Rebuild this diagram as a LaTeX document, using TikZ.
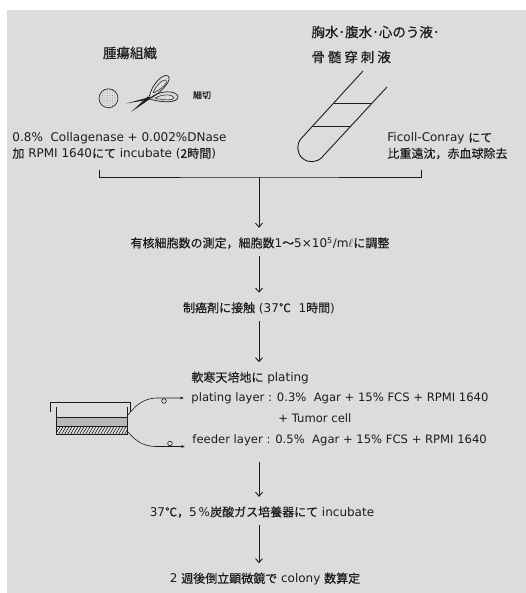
\documentclass[tikz,border=0pt]{standalone}
\usepackage{fontspec}
\setmainfont{DejaVu Sans}
\newfontfamily\jp[FakeBold=0.4]{Noto Sans CJK JP}
\usepackage{tikz}
\usetikzlibrary{arrows.meta,patterns.meta}

\definecolor{paper}{HTML}{DCDCDC}
\definecolor{ink}{HTML}{1C1C1C}

\tikzset{
  head/.style={inner sep=1pt, align=left, font=\jp\fontsize{13.5}{25}\selectfont},
  note/.style={inner sep=1pt, align=left, font=\fontsize{12}{16}\selectfont},
  stage/.style={inner xsep=1pt, inner ysep=3pt, font=\fontsize{12}{14}\selectfont},
  layer/.style={stage, anchor=west, font=\fontsize{11.6}{14}\selectfont},
  flow/.style={->, shorten <=4pt, shorten >=6pt},
  pointer/.style={-{Latex[length=3.5pt,width=3pt]}, line width=0.6pt, shorten >=6pt},
}

\begin{document}
\begin{tikzpicture}[x=1pt,y=-1pt,line width=0.9pt,ink,
  >={Straight Barb[length=4pt,width=7pt]}]
  \useasboundingbox (0,0) rectangle (526,593);
  \fill[white] (0,0) rectangle (526,593);
  \fill[paper] (7,10) rectangle (526,593);

  % the two sources
  \node[head] (tumor) at (130,53) {腫瘍組織};
  \node[head,anchor=west] (fluid) at (310,44.5)
    {胸水･腹水･心のう液･\\{\addfontfeature{LetterSpace=22}骨髄穿刺液}};

  % tissue piece and scissors
  \draw[line width=0.6pt,pattern={Dots[distance=2.5pt,radius=0.35pt]},pattern color=gray]
    (108.5,98.3) circle (9.5);
  \fill (126,103.5) -- (150,97) -- (149.5,99.5) -- cycle;
  \fill (131,112) -- (148,96.5) -- (150,99) -- cycle;
  \draw[line width=0.7pt] (149,97) .. controls (152,84) and (163,73) .. (168,76)
    .. controls (173,79) and (162,92) .. (151,98);
  \draw[line width=0.5pt] (153,93) .. controls (156,85) and (163,79) .. (166,80)
    .. controls (169,82) and (161,90) .. (153,93);
  \draw[line width=0.7pt] (150,98) .. controls (160,90) and (176,90) .. (178,96.5)
    .. controls (179,103) and (162,103) .. (150,99);
  \draw[line width=0.5pt] (155,98) .. controls (162,94) and (173,94) .. (174,97.5)
    .. controls (175,100.5) and (163,100.5) .. (155,98);
  \node[inner sep=1pt,font=\jp\fontsize{9}{9}\selectfont] (mince) at (202,95) {細切};

  % centrifuge tube
  \draw (363,71) -- (301.2,138.5) arc[start angle=221.3,end angle=41.3,radius=14] -- (387,87);
  \draw (333.7,103) -- (372.2,103);
  \draw (312.6,126) -- (350.8,126);

  \node[note,anchor=west] (enzyme) at (11,146)
    {0.8\%\ \ Collagenase + 0.002\%DNase\\{\jp 加} RPMI 1640{\jp にて} incubate ({\jp 2時間})};
  \node[note,anchor=west] (ficoll) at (386,146)
    {Ficoll-Conray {\jp にて}\\{\jp 比重遠沈，赤血球除去}};

  \coordinate (brL) at (99,170);
  \coordinate (brR) at (421,170);
  \coordinate (merge) at (259,177);
  \coordinate (trunk) at (259,0);
  \draw (brL) |- (merge) -| (brR);

  % main flow
  \node[stage] (count) at (260,243)
    {{\jp 有核細胞数の測定，細胞数}1{\jp 〜}5×10\textsuperscript{5}/m$\ell${\jp に調整}};
  \node[stage] (drug) at (259,308) {{\jp 制癌剤に接触} (37{\jp ℃}\ \ 1{\jp 時間})};
  \node[stage,anchor=west] (agar) at (190,378) {{\jp 軟寒天培地に} plating};
  \node[layer] (plating) at (190,398)
    {plating layer : 0.3\%\ \ Agar + 15\% FCS + RPMI 1640};
  \node[layer] (cell) at (277,418) {+ Tumor cell};
  \node[layer] (feeder) at (191,440)
    {feeder layer : 0.5\%\ \ Agar + 15\% FCS + RPMI 1640};
  \node[stage] (incub) at (262,512) {37{\jp ℃，}5\,\%{\jp 炭酸ガス培養器にて} incubate};
  \node[stage] (colony) at (265,579) {2 {\jp 週後倒立顕微鏡で} colony {\jp 数算定}};

  \draw[flow,shorten <=0pt] (merge) -- (count.north -| trunk);
  \draw[flow] (count.south -| trunk) -- (drug.north -| trunk);
  \draw[flow] (drug.south -| trunk) -- (agar.north -| trunk);
  \draw[flow,shorten <=13pt] (feeder.south -| trunk) -- (incub.north -| trunk);
  \draw[flow] (incub.south -| trunk) -- (colony.north -| trunk);

  % culture dish
  \fill[gray!40!paper] (56,417) rectangle (127,426);
  \draw[pattern={Lines[angle=60,distance=2.6pt,line width=0.5pt]}] (56,426) rectangle (127,434);
  \draw (56,407) -- (56,434) -- (127,434) -- (127,407);
  \draw (56,417) -- (127,417);
  \draw (50,412) |- (130.5,402.5) -- (130.5,412);

  \coordinate (dishU) at (128,415);
  \coordinate (dishD) at (128,432);
  \draw[pointer] (dishU) .. controls (138,402) and (147,397.5) .. (160,398) -- (plating.west);
  \draw[pointer] (dishD) .. controls (138,444) and (147,447) .. (160,446.5) -- (feeder.west |- 0,446.5);
  \draw[line width=0.6pt] (164,401) circle (2.3);
  \draw[line width=0.6pt] (170,443.5) circle (2.3);
\end{tikzpicture}
\end{document}
